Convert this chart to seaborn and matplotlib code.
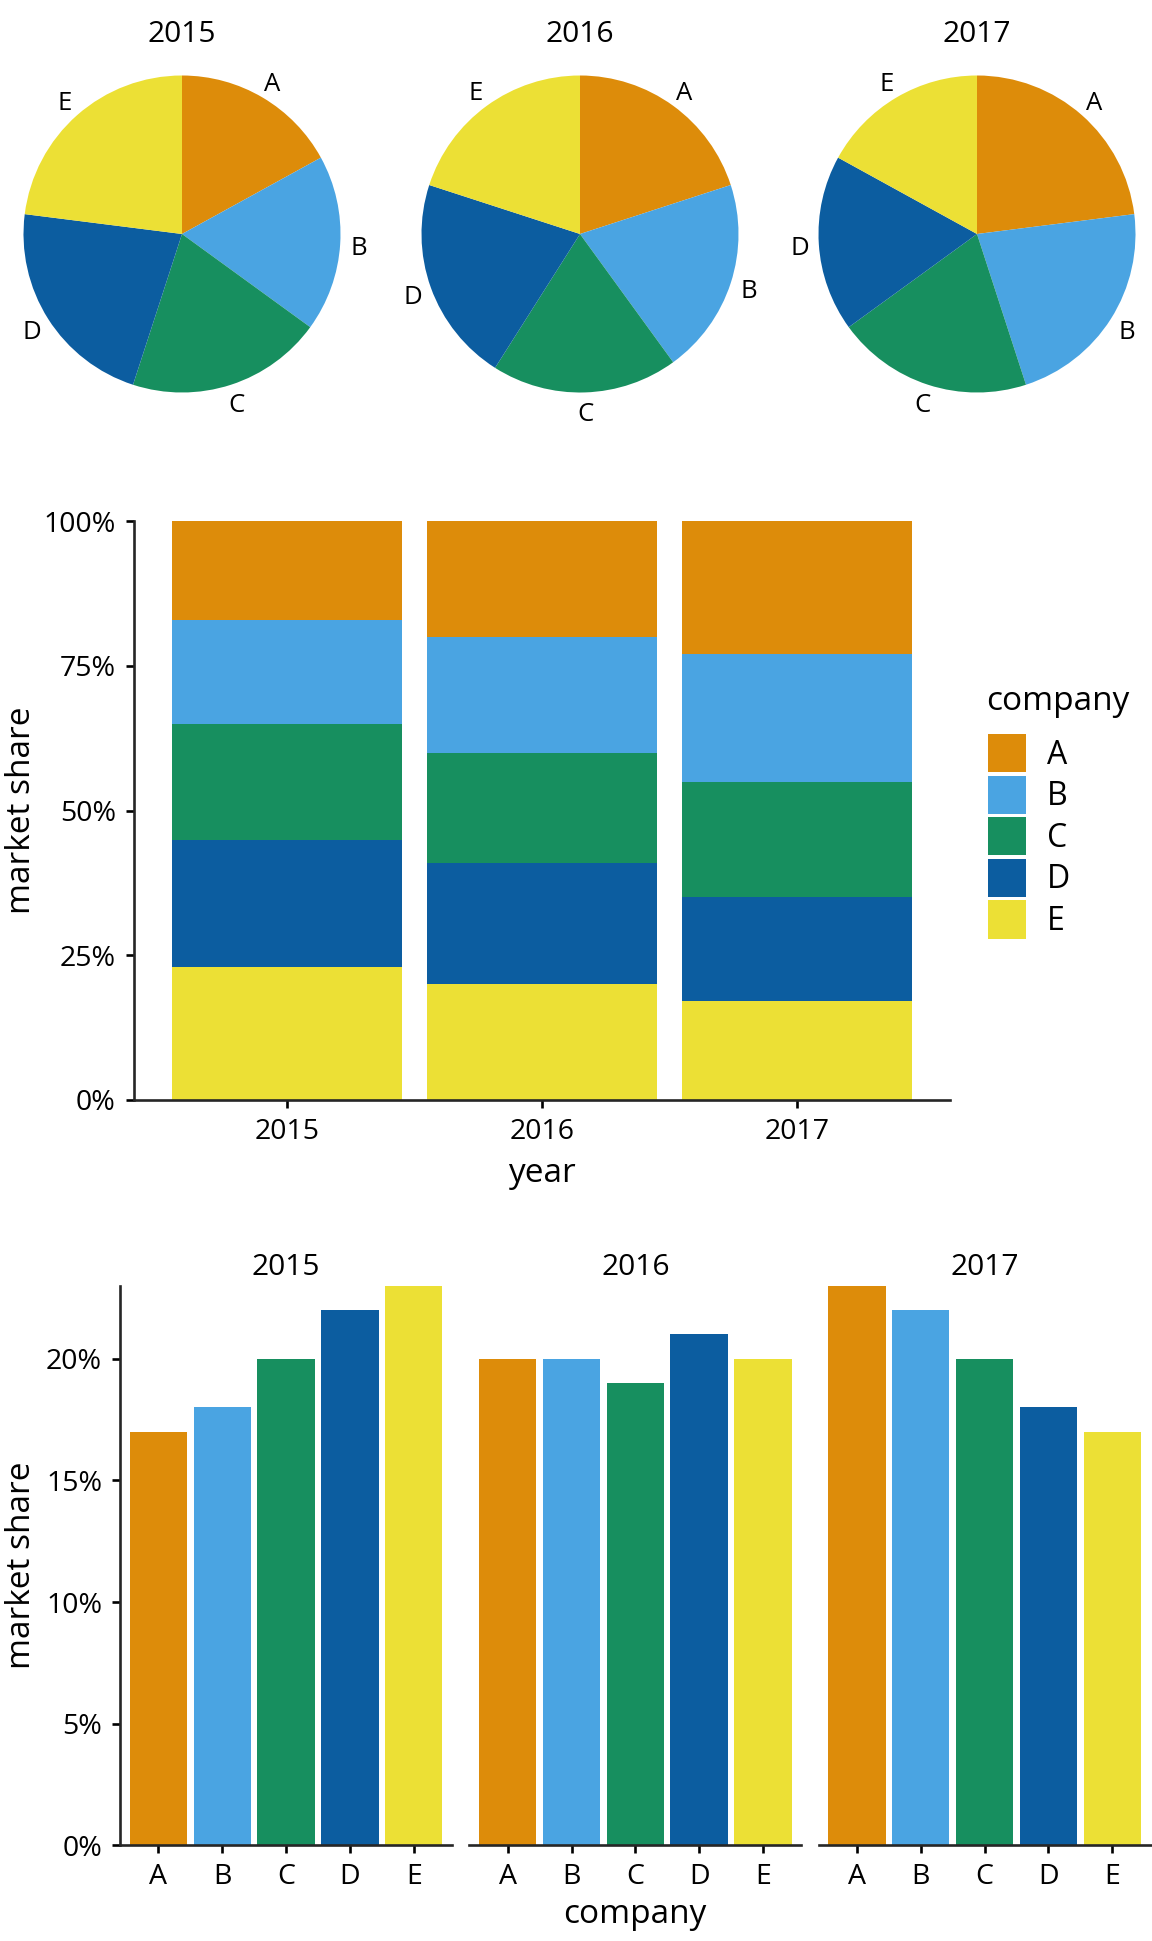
import numpy as np
import pandas as pd
import matplotlib
matplotlib.use("Agg")
import matplotlib.pyplot as plt
from matplotlib.ticker import PercentFormatter
from matplotlib.patches import Patch
import seaborn as sns

# ---- data ----
years = ["2015", "2016", "2017"]
companies = ["A", "B", "C", "D", "E"]
share_2015 = [17, 18, 20, 22, 23]
share_2016 = [20, 20, 19, 21, 20]
share_2017 = [23, 22, 20, 18, 17]
colors = ["#DD8C0A", "#4AA4E2", "#178F5F", "#0C5DA0", "#ECE035"]
stack_ticks = [0, 0.25, 0.5, 0.75, 1.0]
bar_ticks = [0, 0.05, 0.10, 0.15, 0.20]

shares = {"2015": share_2015, "2016": share_2016, "2017": share_2017}
rows = []
for y in years:
    for c, v in zip(companies, shares[y]):
        rows.append({"year": y, "company": c, "share": v / 100})
df = pd.DataFrame(rows)
pal = dict(zip(companies, colors))

sns.set_theme(style="ticks")
plt.rcParams["font.family"] = ["Open Sans", "DejaVu Sans"]
plt.rcParams["axes.linewidth"] = 1.9
plt.rcParams["xtick.major.width"] = 1.9
plt.rcParams["ytick.major.width"] = 1.9
plt.rcParams["xtick.major.size"] = 6
plt.rcParams["ytick.major.size"] = 6
plt.rcParams["text.color"] = "black"
plt.rcParams["axes.labelcolor"] = "black"
plt.rcParams["xtick.color"] = "black"
plt.rcParams["ytick.color"] = "black"

W, H = 1152, 1941
fig = plt.figure(figsize=(W / 100, H / 100), dpi=100)

def px_axes(l, t, r, b):
    return fig.add_axes([l / W, 1 - b / H, (r - l) / W, (b - t) / H])

TICK = 20.5
STRIP = 21.5
TITLE = 24
PIELAB = 18.5

# ---- pies ----
pie_centers = [182, 580, 977]
PCY = 234
R = 158.5
for y, cx in zip(years, pie_centers):
    ax = px_axes(cx - R, PCY - R, cx + R, PCY + R)
    wedges, texts = ax.pie(shares[y], labels=companies, colors=colors,
                           startangle=90, counterclock=False,
                           labeldistance=1.12, radius=1,
                           wedgeprops=dict(linewidth=0),
                           textprops=dict(fontsize=PIELAB))
    for t in texts:
        t.set_ha("center")
        t.set_va("center_baseline")
    ax.set_xlim(-1, 1)
    ax.set_ylim(-1, 1)
    ax.set_aspect("equal")
    ax.axis("off")
    ax.text(0.5, 1 + (PCY - R - 34) / (2 * R), y, transform=ax.transAxes,
            ha="center", va="center", fontsize=STRIP)

# ---- stacked bars ----
SL, ST, SR, SB = 133.8, 521.4, 950, 1099.8
ax = px_axes(SL, ST, SR, SB)
wide = df.pivot(index="year", columns="company", values="share")[companies]
for i, c in enumerate(companies):
    cum = wide[companies[i:]].sum(axis=1).reset_index(name="cum")
    sns.barplot(data=cum, x="year", y="cum", color=colors[i], saturation=1,
                width=0.9, errorbar=None, ax=ax, linewidth=0)
ax.set_xlim(-0.6, 2.6)
ax.set_ylim(0, 1)
ax.set_yticks(stack_ticks)
ax.yaxis.set_major_formatter(PercentFormatter(xmax=1, decimals=0))
ax.tick_params(labelsize=TICK, pad=7)
ax.set_xlabel("year", fontsize=TITLE, labelpad=8)
ax.set_ylabel("market share", fontsize=TITLE)
ax.yaxis.set_label_coords((38 - SL) / (SR - SL), 0.5)
sns.despine(ax=ax)

# legend (title drawn separately for exact spacing)
fig.text(986 / W, 1 - 702 / H, "company", ha="left", va="center",
         fontsize=TITLE)
handles = [Patch(facecolor=col, edgecolor="none") for col in colors]
leg = ax.legend(handles, companies, loc="upper left",
                bbox_to_anchor=(988 / W, 1 - 734 / H),
                bbox_transform=fig.transFigure, frameon=False,
                fontsize=TITLE - 1,
                handlelength=1.19, handleheight=1.47, labelspacing=0.1,
                handletextpad=0.65, borderpad=0, borderaxespad=0)

# ---- faceted bars ----
BT, BB = 1285.6, 1845.4
panels = [(120.1, 452), (469.4, 801.3), (818.6, 1150.6)]
for k, (y, (l, r)) in enumerate(zip(years, panels)):
    ax = px_axes(l, BT, r, BB)
    sub = df[df["year"] == y]
    sns.barplot(data=sub, x="company", y="share", hue="company",
                palette=pal, saturation=1, width=0.9, errorbar=None,
                legend=False, ax=ax, linewidth=0)
    ax.set_xlim(-0.6, 4.6)
    ax.set_ylim(0, 0.23)
    ax.set_yticks(bar_ticks)
    ax.yaxis.set_major_formatter(PercentFormatter(xmax=1, decimals=0))
    ax.tick_params(labelsize=TICK, pad=7)
    ax.set_title(y, fontsize=STRIP, pad=7.5)
    ax.set_xlabel("")
    if k == 0:
        ax.set_ylabel("market share", fontsize=TITLE)
        ax.yaxis.set_label_coords((38 - l) / (r - l), 0.5)
        sns.despine(ax=ax)
    else:
        ax.set_ylabel("")
        sns.despine(ax=ax, left=True)
        ax.tick_params(axis="y", left=False, labelleft=False)

fig.text(635 / W, 1 - 1914.5 / H, "company", ha="center", va="center",
         fontsize=TITLE)

fig.savefig("out.png", dpi=100)
